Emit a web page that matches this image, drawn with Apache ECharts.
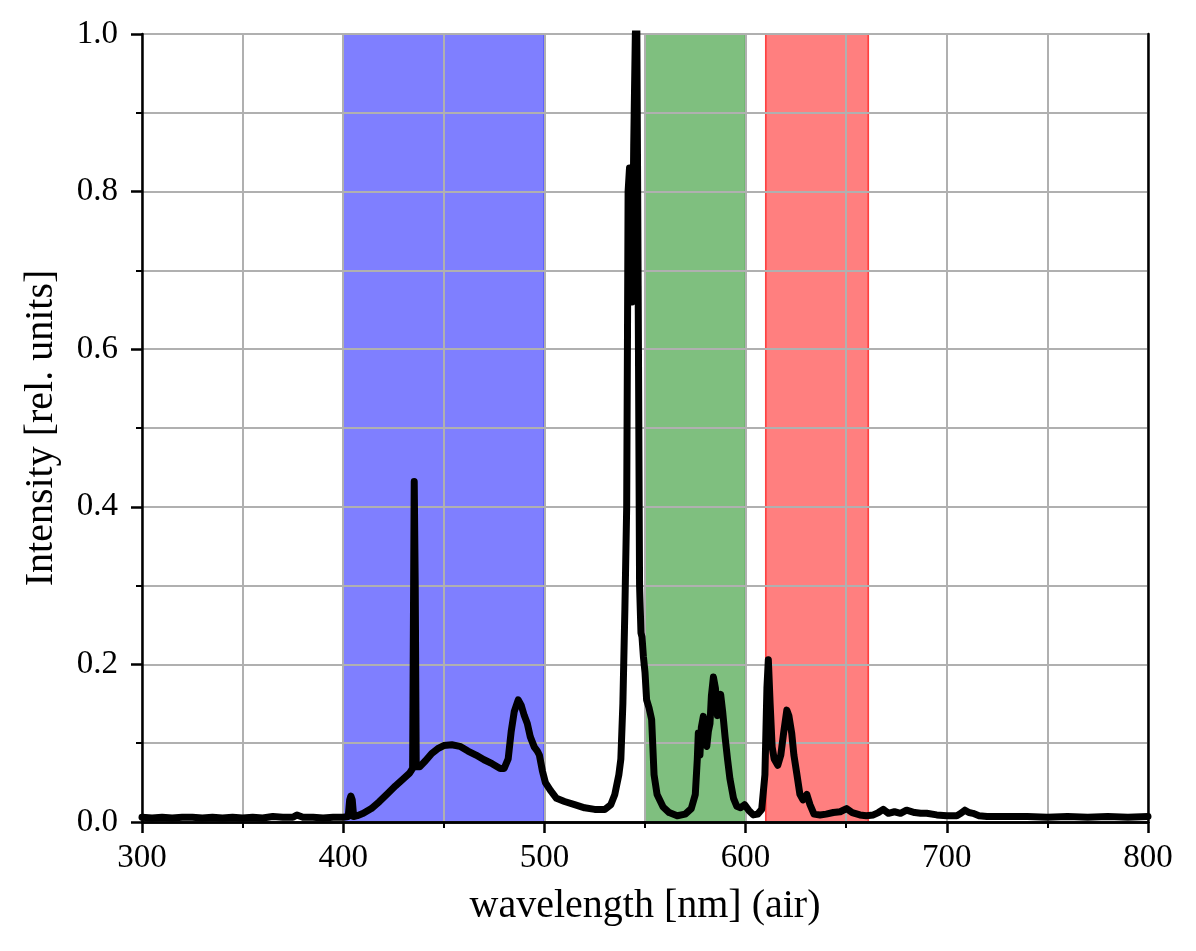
<!DOCTYPE html>
<html>
<head>
<meta charset="utf-8">
<script src="https://cdn.jsdelivr.net/npm/echarts@6/dist/echarts.min.js"></script>
<style>
  html, body { margin: 0; padding: 0; background: #fff; }
  #chart { width: 1196px; height: 951px; }
</style>
</head>
<body>
<div id="chart"></div>
<script>
// spectrum
const wavelengths = [
  300, 305, 310, 315, 320, 325, 330, 335, 340, 345, 350, 355, 360, 365, 370, 375, 377, 380, 385, 390, 395,
  400, 402.5, 403.2, 403.8, 404.5, 405.2, 407, 410, 414, 418, 422, 426, 430, 433, 434.5,
  435, 435.3, 435.8, 436.3, 438, 441, 444, 447, 450, 454, 458, 462, 466, 470, 474, 478, 480,
  482, 483.5, 485, 487, 488.5, 490, 491.5, 493, 495, 496.5, 497.5, 499, 500.5, 503, 506, 510,
  515, 520, 525, 530, 533, 535, 537, 538, 539, 540, 540.9, 541.3, 541.6, 542.3, 543, 543.6, 544.4,
  545.2, 545.9, 546.6, 547.3, 548, 548.5, 549.2, 550, 550.8, 552, 553.3, 554.5, 556,
  559, 562, 566, 570, 573, 575, 576, 576.5, 577.3, 578, 579, 579.8, 580.7, 581.5, 582.3,
  583, 584, 585, 586, 587, 587.6, 588.6, 589.8, 591, 592.2, 594, 595.6, 597.5, 599.5,
  601.5, 603.8, 606, 608, 609.6, 610.6, 611.3, 612.2, 613.2, 614.2, 616, 617.5, 619,
  620.5, 621.5, 622.9, 624, 625.4, 627, 628.5, 630.4, 632, 634, 637, 640, 643.6, 647,
  650.2, 653, 656.8, 660, 663.5, 666, 668.4, 671, 674, 677, 680, 684, 687, 690, 695,
  700, 705, 707, 709, 711, 713, 716, 720, 730, 740, 750, 760, 770, 780, 790, 800
];
const intensities = [
  0.006, 0.005, 0.006, 0.005, 0.006, 0.006, 0.005, 0.006, 0.005, 0.006, 0.005, 0.006, 0.005, 0.007, 0.006, 0.006, 0.009, 0.006, 0.006, 0.005, 0.006,
  0.006, 0.007, 0.028, 0.033, 0.028, 0.007, 0.008, 0.011, 0.017, 0.026, 0.036, 0.046, 0.055, 0.062, 0.068,
  0.30, 0.432, 0.30, 0.07, 0.070, 0.078, 0.087, 0.093, 0.097, 0.098, 0.096, 0.090, 0.085, 0.079, 0.074, 0.068, 0.068,
  0.08, 0.115, 0.140, 0.155, 0.148, 0.135, 0.125, 0.108, 0.095, 0.09, 0.085, 0.065, 0.05, 0.040, 0.030, 0.026,
  0.022, 0.018, 0.016, 0.016, 0.022, 0.035, 0.060, 0.08, 0.15, 0.27, 0.40, 0.62, 0.80, 0.83, 0.74, 0.66, 0.86,
  1.0, 1.03, 0.68, 0.30, 0.24, 0.235, 0.21, 0.19, 0.155, 0.145, 0.13, 0.06, 0.035,
  0.019, 0.012, 0.008, 0.010, 0.017, 0.035, 0.08, 0.113, 0.085, 0.12, 0.134, 0.10, 0.096, 0.115, 0.125,
  0.16, 0.184, 0.17, 0.135, 0.155, 0.162, 0.14, 0.108, 0.08, 0.055, 0.03, 0.02, 0.018, 0.022,
  0.015, 0.009, 0.01, 0.016, 0.06, 0.17, 0.206, 0.15, 0.095, 0.08, 0.072, 0.085, 0.115,
  0.142, 0.135, 0.113, 0.085, 0.062, 0.035, 0.028, 0.035, 0.022, 0.01, 0.009, 0.01, 0.012, 0.013,
  0.017, 0.012, 0.009, 0.008, 0.009, 0.012, 0.016, 0.011, 0.013, 0.011, 0.015, 0.012, 0.011, 0.011, 0.009,
  0.008, 0.008, 0.011, 0.015, 0.012, 0.011, 0.008, 0.007, 0.007, 0.007, 0.006, 0.007, 0.006, 0.007, 0.006, 0.007
];

// shaded wavelength bands [start, end]
const blueBand = [400, 500];
const greenBand = [550, 600];
const redBand = [610, 661];

const xTicks = [300, 800, 100];   // min, max, step
const yTicks = [0, 1, 0.2];

const serif = '"Liberation Serif", "DejaVu Serif", serif';

let chart = echarts.init(document.getElementById('chart'));

function band(range, fill, edge) {
  return [
    { xAxis: range[0], itemStyle: { color: fill, borderColor: edge, borderWidth: 1.5 } },
    { xAxis: range[1] }
  ];
}

let gridStyle = { show: true, lineStyle: { color: '#b0b0b0', width: 2 } };

let option = {
  animation: false,
  backgroundColor: '#fff',
  grid: { left: 142, right: 48, top: 34, bottom: 129 },
  xAxis: [{
    type: 'value',
    min: xTicks[0], max: xTicks[1], interval: xTicks[2],
    z: 2,
    name: 'wavelength [nm] (air)',
    nameLocation: 'middle',
    nameGap: 64,
    nameTextStyle: { fontFamily: serif, fontSize: 40, color: '#000' },
    axisLine: { show: true, onZero: false, lineStyle: { color: '#000', width: 2.5 } },
    axisTick: { show: true, inside: false, length: 11, lineStyle: { color: '#000', width: 2.5 } },
    minorTick: { show: true, splitNumber: 2, length: 6, lineStyle: { color: '#000', width: 2 } },
    splitLine: gridStyle,
    minorSplitLine: gridStyle,
    axisLabel: { fontFamily: serif, fontSize: 33, color: '#000', margin: 20 }
  }, {
    type: 'value', position: 'top',
    min: xTicks[0], max: xTicks[1], interval: xTicks[2],
    z: 2,
    axisLine: { show: true, lineStyle: { color: '#000', width: 2.5 } },
    axisTick: { show: false }, axisLabel: { show: false }, splitLine: { show: false }
  }],
  yAxis: [{
    type: 'value',
    min: yTicks[0], max: yTicks[1], interval: yTicks[2],
    z: 2,
    name: 'Intensity [rel. units]',
    nameLocation: 'middle',
    nameGap: 81,
    nameTextStyle: { fontFamily: serif, fontSize: 40, color: '#000' },
    axisLine: { show: true, onZero: false, lineStyle: { color: '#000', width: 2.5 } },
    axisTick: { show: true, inside: false, length: 11, lineStyle: { color: '#000', width: 2.5 } },
    minorTick: { show: true, splitNumber: 2, length: 6, lineStyle: { color: '#000', width: 2 } },
    splitLine: gridStyle,
    minorSplitLine: gridStyle,
    axisLabel: {
      fontFamily: serif, fontSize: 33, color: '#000', margin: 24,
      formatter: v => v.toFixed(1)
    }
  }, {
    type: 'value', position: 'right',
    min: yTicks[0], max: yTicks[1], interval: yTicks[2],
    z: 2,
    axisLine: { show: true, lineStyle: { color: '#000', width: 2.5 } },
    axisTick: { show: false }, axisLabel: { show: false }, splitLine: { show: false }
  }],
  series: [{
    // colour bands, kept under the grid
    type: 'line',
    z: 0,
    data: [],
    silent: true,
    markArea: {
      silent: true,
      z: 0,
      data: [
        band(blueBand, 'rgba(0,0,255,0.5)', 'rgba(0,0,255,0.7)'),
        band(greenBand, 'rgba(0,128,0,0.5)', 'rgba(0,128,0,0.7)'),
        band(redBand, 'rgba(255,0,0,0.5)', 'rgba(255,0,0,0.7)')
      ]
    }
  }, {
    type: 'line',
    z: 3,
    data: wavelengths.map((w, i) => [w, intensities[i]]),
    showSymbol: false,
    clip: true,
    lineStyle: { color: '#000', width: 7, join: 'round', cap: 'round' }
  }]
};

chart.setOption(option);
</script>
</body>
</html>
